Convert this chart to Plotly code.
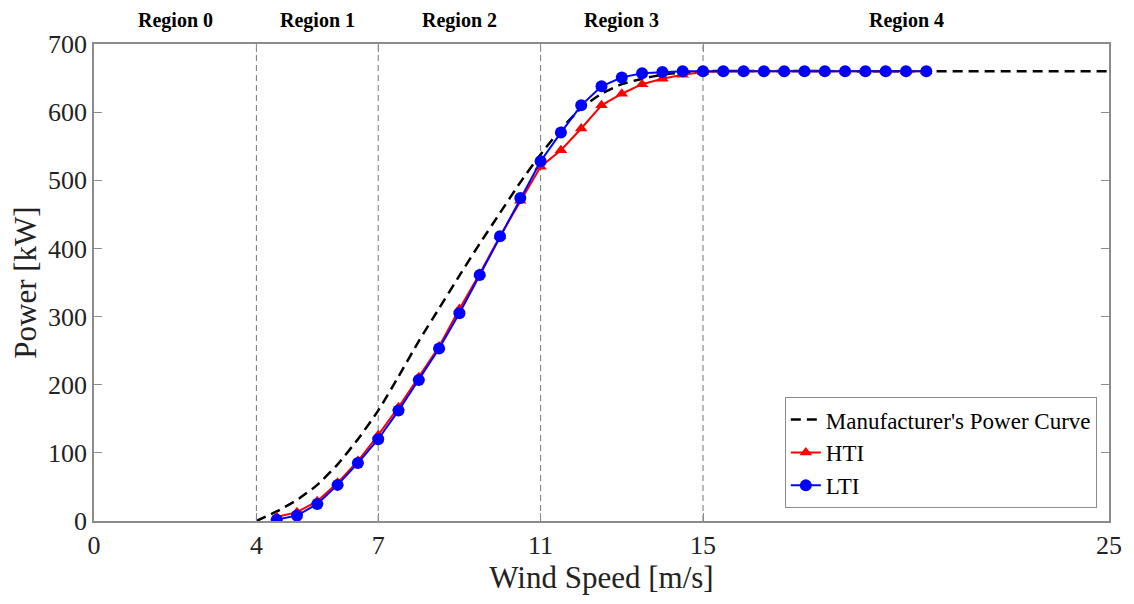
import plotly.graph_objects as go

wind = [4.5, 5.0, 5.5, 6.0, 6.5, 7.0, 7.5, 8.0, 8.5, 9.0, 9.5, 10.0, 10.5, 11.0,
        11.5, 12.0, 12.5, 13.0, 13.5, 14.0, 14.5, 15.0, 15.5, 16.0, 16.5, 17.0,
        17.5, 18.0, 18.5, 19.0, 19.5, 20.0, 20.5]
hti = [6, 13, 29, 56, 88, 126, 167, 211, 256, 311, 363, 418, 470, 520,
       544, 576, 610, 627, 641, 649, 655, 659, 660, 660, 660, 660,
       660, 660, 660, 660, 660, 660, 660]
lti = [2, 8, 25, 53, 85, 120, 162, 207, 253, 305, 361, 418, 474, 528,
       570, 610, 638, 651, 657, 659, 660, 660, 660, 660, 660, 660,
       660, 660, 660, 660, 660, 660, 660]

mfr_wind = [4.0, 4.5, 5.0, 5.5, 6.0, 6.5, 7.0, 7.5, 8.0, 8.5, 9.0, 9.5, 10.0,
            10.5, 11.0, 11.5, 12.0, 12.5, 13.0, 13.5, 14.0, 14.5, 15.0, 20.0, 25.0]
mfr_power = [0, 14, 31, 53, 83, 120, 162, 212, 264, 312, 360, 407, 452,
             497, 538, 575, 606, 627, 641, 649, 655, 658, 660, 660, 660]

region_bounds = [4, 7, 11, 15]
region_labels = ["Region 0", "Region 1", "Region 2", "Region 3", "Region 4"]
region_centers = [2, 5.5, 9, 13, 20]
x_ticks = [0, 4, 7, 11, 15, 25]
y_ticks = [0, 100, 200, 300, 400, 500, 600, 700]

FONT = "Liberation Serif, Times New Roman, serif"

fig = go.Figure()

for xb in region_bounds:
    fig.add_trace(go.Scatter(x=[xb, xb], y=[0, 700], mode="lines",
                             line=dict(color="#777777", width=1, dash="6px,4px"),
                             showlegend=False, hoverinfo="skip"))

fig.add_trace(go.Scatter(x=mfr_wind, y=mfr_power, mode="lines",
                         name="Manufacturer's Power Curve",
                         line=dict(color="black", width=2.5, dash="10px,6px",
                                   shape="spline", smoothing=0.5)))
fig.add_trace(go.Scatter(x=wind, y=hti, mode="lines+markers", name="HTI",
                         line=dict(color="#ff0000", width=2),
                         marker=dict(symbol="triangle-up", size=11, color="#ff0000")))
fig.add_trace(go.Scatter(x=wind, y=lti, mode="lines+markers", name="LTI",
                         line=dict(color="#0000ff", width=2),
                         marker=dict(symbol="circle", size=12, color="#0000ff")))

for lab, xc in zip(region_labels, region_centers):
    fig.add_annotation(x=xc, y=1.0, xref="x", yref="paper", yanchor="middle", yshift=24,
                       text="<b>" + lab + "</b>", showarrow=False,
                       font=dict(family=FONT, size=20, color="black"))

axis_common = dict(showline=True, linecolor="#8c8c8c", linewidth=1.5, mirror="ticks",
                   ticks="inside", ticklen=8, tickcolor="#8c8c8c", showgrid=False,
                   zeroline=False, tickfont=dict(family=FONT, size=26, color="#222222"))

fig.update_layout(
    width=1126, height=596,
    margin=dict(l=86, r=25, t=36, b=83),
    plot_bgcolor="white", paper_bgcolor="white",
    xaxis=dict(range=[0, 25], tickvals=x_ticks, ticktext=[str(v) for v in x_ticks],
               title=dict(text="Wind Speed [m/s]", font=dict(family=FONT, size=31, color="#222222"), standoff=2),
               **axis_common),
    yaxis=dict(range=[0, 700], tickvals=y_ticks,
               title=dict(text="Power [kW]", font=dict(family=FONT, size=31, color="#222222"), standoff=6),
               **axis_common),
    legend=dict(x=0.988, y=0.027, xanchor="right", yanchor="bottom",
                bgcolor="white", bordercolor="#8c8c8c", borderwidth=1,
                font=dict(family=FONT, size=23, color="black"),
                tracegroupgap=0, itemwidth=30),
    showlegend=True,
)

fig.write_html("out.html")
